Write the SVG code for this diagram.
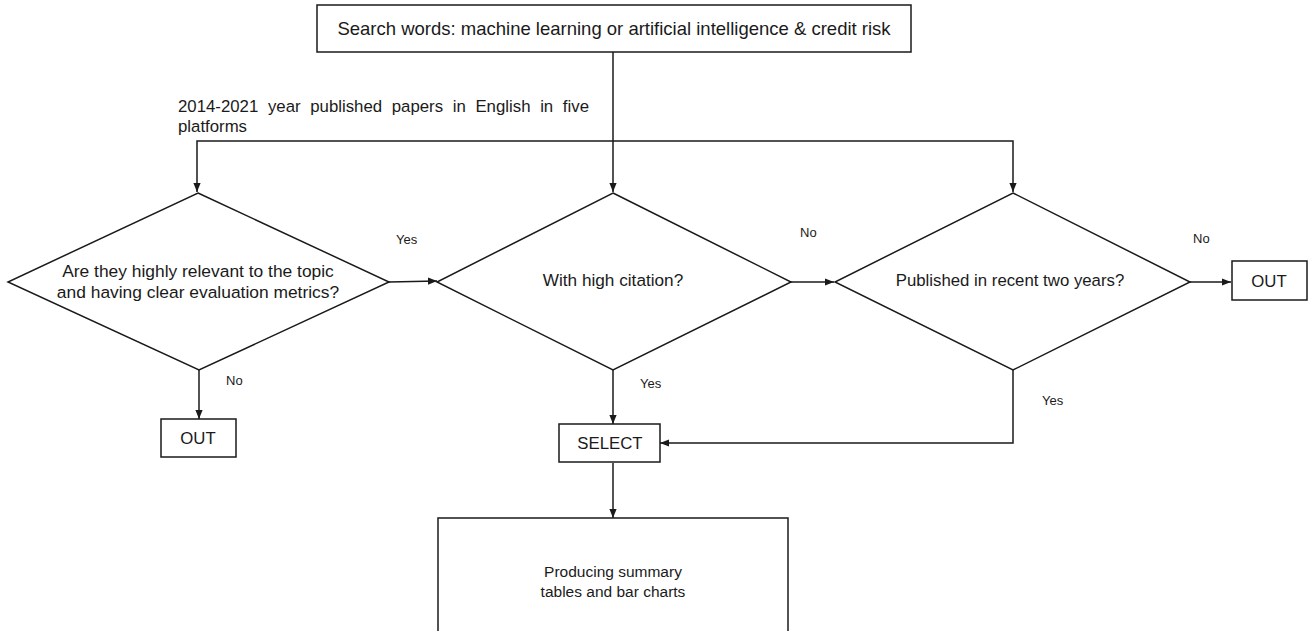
<svg xmlns="http://www.w3.org/2000/svg" width="1312" height="631" viewBox="0 0 1312 631">
<style>
.box{fill:#fff;stroke:#1a1a1a;stroke-width:1.5}
.ln{fill:none;stroke:#1a1a1a;stroke-width:1.5}
.t{font-family:"Liberation Sans",Arial,sans-serif;font-size:16.8px;fill:#1a1a1a;text-anchor:middle}
.n{font-family:"Liberation Sans",Arial,sans-serif;font-size:16.8px;fill:#1a1a1a}
.l{font-family:"Liberation Sans",Arial,sans-serif;font-size:13px;fill:#1a1a1a}
</style>
<defs>
<marker id="ah" viewBox="0 0 10 10" refX="10" refY="5" markerWidth="9" markerHeight="9" markerUnits="userSpaceOnUse" orient="auto">
<path d="M0,1 L10,5 L0,9 z" fill="#1a1a1a"/>
</marker>
</defs>
<rect width="1312" height="631" fill="#fff"/>
<g id="connectors">
<path class="ln" d="M613,52 V192" marker-end="url(#ah)"/>
<path class="ln" d="M613,141 H197 V192" marker-end="url(#ah)"/>
<path class="ln" d="M613,141 H1013 V192" marker-end="url(#ah)"/>
<path class="ln" d="M389,282 L437,281" marker-end="url(#ah)"/>
<path class="ln" d="M791,282 L834,282" marker-end="url(#ah)"/>
<path class="ln" d="M1190,282 H1231" marker-end="url(#ah)"/>
<path class="ln" d="M199,370 V419" marker-end="url(#ah)"/>
<path class="ln" d="M613,370 V424" marker-end="url(#ah)"/>
<path class="ln" d="M1013,370 V443 H660" marker-end="url(#ah)"/>
<path class="ln" d="M613,463 V518" marker-end="url(#ah)"/>
<text class="l" x="396" y="244">Yes</text>
<text class="l" x="800" y="237">No</text>
<text class="l" x="1193" y="243">No</text>
<text class="l" x="226" y="385">No</text>
<text class="l" x="640" y="388">Yes</text>
<text class="l" x="1042" y="405">Yes</text>
</g>
<g id="search">
<rect class="box" x="317" y="5" width="594" height="47"/>
<text class="t" x="614" y="35" style="font-size:18.5px">Search words: machine learning or artificial intelligence &amp; credit risk</text>
</g>
<g id="note">
<text class="n" x="178" y="112" word-spacing="5">2014-2021 year published papers in English in five</text>
<text class="n" x="178" y="132">platforms</text>
</g>
<g id="d1">
<polygon class="box" points="198,193 389,282 199,370 8,282"/>
<text class="t" x="198" y="277" style="font-size:17.4px">Are they highly relevant to the topic</text>
<text class="t" x="198" y="298" style="font-size:17.4px">and having clear evaluation metrics?</text>
</g>
<g id="d2">
<polygon class="box" points="613,193 791,282 613,370 437,282"/>
<text class="t" x="613" y="286" style="font-size:17.2px">With high citation?</text>
</g>
<g id="d3">
<polygon class="box" points="1013,193 1190,282 1013,370 835,282"/>
<text class="t" x="1010" y="286">Published in recent two years?</text>
</g>
<g id="out2">
<rect class="box" x="1232" y="261" width="75" height="39"/>
<text class="t" x="1269" y="287">OUT</text>
</g>
<g id="out1">
<rect class="box" x="161" y="419" width="75" height="38"/>
<text class="t" x="198" y="444">OUT</text>
</g>
<g id="select">
<rect class="box" x="559" y="424" width="101" height="38"/>
<text class="t" x="610" y="449">SELECT</text>
</g>
<g id="summary">
<rect class="box" x="438" y="518" width="350" height="120"/>
<text class="t" x="613" y="577" style="font-size:15.5px">Producing summary</text>
<text class="t" x="613" y="597" style="font-size:15.5px">tables and bar charts</text>
</g>
</svg>
